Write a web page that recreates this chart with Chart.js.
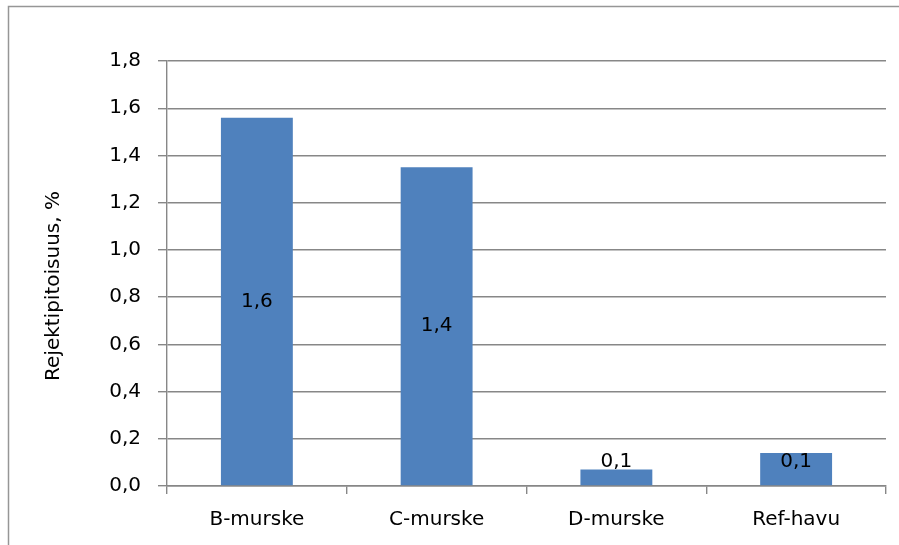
<!DOCTYPE html>
<html>
<head>
<meta charset="utf-8">
<script src="https://cdn.jsdelivr.net/npm/chart.js@4/dist/chart.umd.min.js"></script>
<style>
  html, body { margin: 0; padding: 0; background: #ffffff; overflow: hidden; }
  #wrap { position: relative; width: 899px; height: 545px; }
</style>
</head>
<body>
<div id="wrap"><canvas id="chart"></canvas></div>
<script>
// Reject content per material
const categories = ['B-murske', 'C-murske', 'D-murske', 'Ref-havu'];
const rejectContent = [1.56, 1.35, 0.07, 0.14];
const yTickValues = [0, 0.2, 0.4, 0.6, 0.8, 1.0, 1.2, 1.4, 1.6, 1.8];
const yAxisTitle = 'Rejektipitoisuus, %';

const FONT = 'DejaVu Sans';
const GRID = '#878787';
const BAR = '#4f81bd';

const fmt = v => v.toFixed(1).replace('.', ',');

// Outer frame of the chart object (runs off the right and bottom edges)
const framePlugin = {
  id: 'frame',
  beforeDraw(chart) {
    const ctx = chart.ctx;
    ctx.save();
    ctx.fillStyle = '#ffffff';
    ctx.fillRect(0, 0, chart.width, chart.height);
    ctx.strokeStyle = '#969696';
    ctx.lineWidth = 1.5;
    ctx.beginPath();
    ctx.moveTo(8.5, 2000);
    ctx.lineTo(8.5, 6.5);
    ctx.lineTo(2000, 6.5);
    ctx.stroke();
    ctx.restore();
  }
};

// Value labels inside the bars, pulled up for very short bars
const valueLabels = {
  id: 'valueLabels',
  afterDatasetsDraw(chart) {
    const ctx = chart.ctx;
    const meta = chart.getDatasetMeta(0);
    ctx.save();
    ctx.font = '20px "' + FONT + '"';
    ctx.fillStyle = '#000000';
    ctx.textAlign = 'center';
    ctx.textBaseline = 'middle';
    meta.data.forEach((bar, i) => {
      const v = chart.data.datasets[0].data[i];
      const y = Math.min((bar.y + bar.base) / 2, bar.base - 24);
      ctx.fillText(fmt(v), bar.x, y);
    });
    ctx.restore();
  }
};

// Rotated y axis title
const yTitle = {
  id: 'yTitle',
  afterDraw(chart) {
    const ctx = chart.ctx;
    ctx.save();
    ctx.font = '20px "' + FONT + '"';
    ctx.fillStyle = '#000000';
    ctx.textAlign = 'center';
    ctx.textBaseline = 'middle';
    ctx.translate(54, 286);
    ctx.rotate(-Math.PI / 2);
    ctx.fillText(yAxisTitle, 0, 0);
    ctx.restore();
  }
};

new Chart(document.getElementById('chart'), {
  type: 'bar',
  data: {
    labels: categories,
    datasets: [{
      data: rejectContent,
      backgroundColor: BAR,
      borderWidth: 0,
      categoryPercentage: 1.0,
      barPercentage: 0.4
    }]
  },
  options: {
    responsive: true,
    maintainAspectRatio: false,
    animation: false,
    devicePixelRatio: 1,
    layout: { padding: { left: 0, right: 13, top: 61, bottom: 0 } },
    plugins: {
      legend: { display: false },
      tooltip: { enabled: false },
      title: { display: false }
    },
    scales: {
      x: {
        offset: true,
        grid: {
          display: true,
          offset: true,
          drawOnChartArea: false,
          drawTicks: true,
          tickLength: 8,
          color: GRID,
          lineWidth: 1.4
        },
        border: { display: true, color: GRID, width: 1.4 },
        ticks: {
          color: '#000000',
          font: { family: FONT, size: 20 },
          padding: 14,
          maxRotation: 0
        },
        afterFit(scale) { scale.height = 59; }
      },
      y: {
        min: 0,
        max: 1.8,
        afterBuildTicks(scale) { scale.ticks = yTickValues.map(v => ({ value: v })); },
        grid: {
          color: GRID,
          lineWidth: 1.4,
          drawTicks: true,
          tickLength: 9
        },
        border: { display: true, color: GRID, width: 1.4 },
        ticks: {
          color: '#000000',
          font: { family: FONT, size: 20 },
          padding: 17,
          callback: v => fmt(v)
        },
        afterFit(scale) { scale.width = 167; }
      }
    }
  },
  plugins: [framePlugin, valueLabels, yTitle]
});
</script>
</body>
</html>
